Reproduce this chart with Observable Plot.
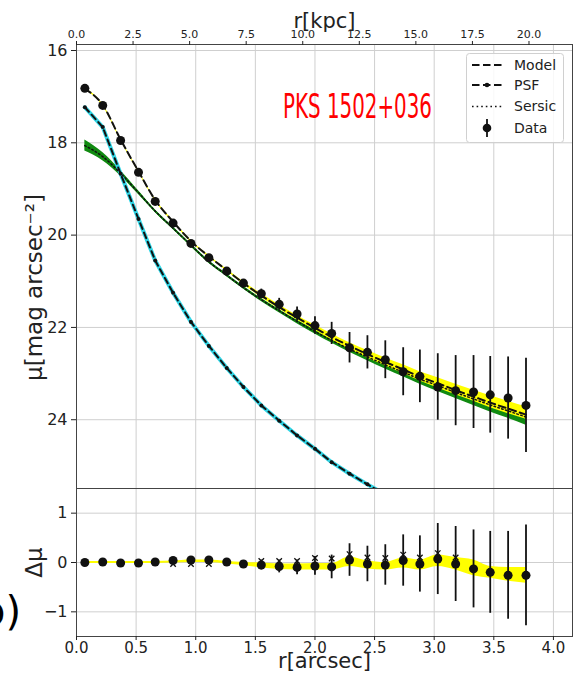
<!DOCTYPE html>
<html><head><meta charset="utf-8">
<script src="https://cdn.jsdelivr.net/npm/d3@7"></script>
<script src="https://cdn.jsdelivr.net/npm/@observablehq/plot@0.6"></script>
<style>
body{margin:0;background:#fff;}
#wrap{position:relative;width:577px;height:680px;font-family:"DejaVu Sans",sans-serif;overflow:hidden;background:#fff}
#wrap > div > svg, #wrap > svg{display:block}
#overlay{position:absolute;left:0;top:0;pointer-events:none}
#blabel{position:absolute;left:-20px;top:588px;font:40px "DejaVu Sans",sans-serif;color:#000}
</style></head><body><div id="wrap"></div>
<script>
// ---- data ----
const rArcsec = [0.07,0.22,0.37,0.52,0.66,0.81,0.96,1.11,1.26,1.40,1.55,1.70,1.85,2.00,2.14,2.29,2.44,2.59,2.74,2.88,3.03,3.18,3.33,3.47,3.62,3.77];
const muData  = [16.82,17.19,17.95,18.64,19.27,19.74,20.18,20.49,20.78,21.04,21.27,21.50,21.71,21.96,22.13,22.44,22.54,22.70,22.96,23.06,23.29,23.37,23.40,23.46,23.53,23.69];
const muErr   = [0.02,0.02,0.02,0.02,0.02,0.03,0.03,0.04,0.05,0.06,0.10,0.13,0.15,0.19,0.24,0.33,0.36,0.41,0.52,0.57,0.72,0.76,0.79,0.83,0.89,1.02];
const muModel = [16.83,17.18,17.93,18.62,19.24,19.71,20.13,20.46,20.76,21.04,21.31,21.56,21.79,22.01,22.21,22.40,22.58,22.75,22.91,23.07,23.21,23.36,23.50,23.63,23.76,23.89];
const modelLo = [16.81,17.16,17.91,18.60,19.22,19.69,20.11,20.44,20.74,21.01,21.27,21.51,21.74,21.95,22.14,22.33,22.50,22.66,22.81,22.96,23.09,23.23,23.36,23.48,23.60,23.72];
const modelHi = [16.85,17.20,17.95,18.64,19.26,19.73,20.15,20.48,20.78,21.07,21.35,21.60,21.84,22.06,22.27,22.47,22.66,22.83,23.00,23.16,23.31,23.46,23.60,23.74,23.87,23.99];
const muSersic = [18.06,18.30,18.66,19.08,19.48,19.85,20.22,20.58,20.87,21.14,21.40,21.64,21.87,22.09,22.28,22.47,22.64,22.81,22.97,23.12,23.26,23.41,23.55,23.68,23.81,23.94];
const sersicLo = [17.94,18.21,18.60,19.04,19.45,19.82,20.19,20.55,20.84,21.11,21.37,21.61,21.84,22.05,22.24,22.42,22.59,22.75,22.91,23.05,23.19,23.33,23.46,23.59,23.71,23.84];
const sersicHi = [18.18,18.39,18.72,19.12,19.51,19.88,20.25,20.61,20.90,21.17,21.44,21.68,21.92,22.14,22.34,22.54,22.72,22.90,23.07,23.23,23.39,23.54,23.69,23.83,23.97,24.12];
const muPSF   = [17.23,17.66,18.67,19.65,20.55,21.25,21.88,22.40,22.88,23.29,23.69,24.02,24.34,24.63,24.92,25.17,25.40,25.62];
const dMu     = [0.00,0.01,-0.01,-0.01,0.01,0.04,0.05,0.05,0.01,-0.03,-0.05,-0.08,-0.10,-0.07,-0.09,0.05,-0.03,-0.05,0.04,-0.03,0.07,-0.03,-0.13,-0.20,-0.26,-0.26];
const dMuAlt  = [0.00,0.01,-0.01,-0.01,0.01,-0.03,-0.03,-0.03,0.00,-0.02,0.03,0.03,0.03,0.09,0.08,0.17,0.10,0.09,0.16,0.10,0.19,0.10,null,null,null,null];
const dBandLo = [-0.02,-0.02,-0.02,-0.02,-0.02,-0.01,0.00,0.00,-0.03,-0.06,-0.11,-0.14,-0.15,-0.15,-0.15,-0.08,-0.13,-0.15,-0.11,-0.15,-0.08,-0.15,-0.27,-0.32,-0.38,-0.42];
const dBandHi = [0.02,0.02,0.02,0.02,0.02,0.03,0.05,0.05,0.02,0.00,-0.01,-0.03,-0.03,-0.02,-0.02,0.11,0.03,0.00,0.09,0.05,0.15,0.10,0.05,-0.08,-0.10,-0.10];

const kpcPerArcsec = 5.27;
const kpcTicks = [0,2.5,5,7.5,10,12.5,15,17.5,20];
const arcsecTicks = [0,0.5,1,1.5,2,2.5,3,3.5,4];
const muTicks = [16,18,20,22,24];
const dMuTicks = [-1,0,1];
const legendLabels = ["Model","PSF","Sersic","Data"];
const objectName = "PKS 1502+036";

// ---- tables ----
const rows = rArcsec.map((r,i)=>({r, mu:muData[i], err:muErr[i], model:muModel[i], mLo:modelLo[i], mHi:modelHi[i],
  sersic:muSersic[i], sLo:sersicLo[i], sHi:sersicHi[i], dmu:dMu[i], alt:dMuAlt[i], bLo:dBandLo[i], bHi:dBandHi[i]}));
const psfRows = muPSF.map((m,i)=>({r:rArcsec[i], mu:m}));

const W = 577, ML = 76, MR = 5;
const xDomain = [0, 4.16];
const fmt1 = d3.format(".1f");
const minus = d => d < 0 ? "\u2212" + (-d) : String(d);
const gridStyle = {stroke:"#cfcfcf", strokeOpacity:1, strokeWidth:1};
const ink = "#111";

const mainPlot = Plot.plot({
  width: W, height: 488, marginLeft: ML, marginRight: MR, marginTop: 44, marginBottom: 0,
  style: {fontFamily:"DejaVu Sans, sans-serif", background:"white", color:"#222", overflow:"visible"},
  x: {domain: xDomain},
  y: {domain: [15.87, 25.49], reverse: true},
  marks: [
    Plot.gridX(arcsecTicks, gridStyle),
    Plot.gridY(muTicks, gridStyle),
    Plot.areaY(rows, {x:"r", y1:"sLo", y2:"sHi", fill:"#108a10", curve:"monotone-x"}),
    Plot.line(rows, {x:"r", y:"sersic", stroke:"#108a10", strokeWidth:1.5, curve:"monotone-x"}),
    Plot.areaY(rows, {x:"r", y1:"mLo", y2:"mHi", fill:"#ffff00", curve:"monotone-x"}),
    Plot.line(psfRows, {x:"r", y:"mu", stroke:"#30d5e5", strokeWidth:4, clip:true}),
    Plot.line(psfRows, {x:"r", y:"mu", stroke:"#111", strokeWidth:2, strokeDasharray:"6,4", clip:true}),
    Plot.dot(psfRows, {x:"r", y:"mu", r:2, fill:"#111", clip:true}),
    Plot.line(rows, {x:"r", y:"sersic", stroke:"#111", strokeWidth:1.5, strokeDasharray:"1.5,2.5", curve:"monotone-x"}),
    Plot.line(rows, {x:"r", y:"model", stroke:"#111", strokeWidth:2, strokeDasharray:"7,4", curve:"monotone-x"}),
    Plot.ruleX(rows, {x:"r", y1:d=>d.mu-d.err, y2:d=>d.mu+d.err, stroke:ink, strokeWidth:1.8}),
    Plot.dot(rows, {x:"r", y:"mu", r:4.5, fill:ink}),
    Plot.frame({stroke:"#444"}),
    Plot.axisY(muTicks, {anchor:"left", tickSize:5, tickPadding:4, fontSize:16, label:null}),
    Plot.axisX(kpcTicks.map(k=>k/kpcPerArcsec), {anchor:"top", tickSize:4, tickPadding:3, fontSize:11,
      tickFormat: d => fmt1(d*kpcPerArcsec), label:null}),
    Plot.text(["\u03bc[mag arcsec\u207b\u00b2]"], {frameAnchor:"left", textAnchor:"middle", dx:-42, dy:21, rotate:-90, fontSize:23, fill:"#222"}),
    Plot.text(["r[kpc]"], {frameAnchor:"top", textAnchor:"middle", dy:-31, fontSize:21, fill:"#222"})
  ]
});

const residPlot = Plot.plot({
  width: W, height: 192, marginLeft: ML, marginRight: MR, marginTop: 0, marginBottom: 44,
  style: {fontFamily:"DejaVu Sans, sans-serif", background:"white", color:"#222", overflow:"visible"},
  x: {domain: xDomain},
  y: {domain: [-1.5, 1.5]},
  marks: [
    Plot.gridX(arcsecTicks, gridStyle),
    Plot.gridY(dMuTicks, gridStyle),
    Plot.areaY(rows, {x:"r", y1:"bLo", y2:"bHi", fill:"#ffff00", curve:"monotone-x"}),
    Plot.ruleX(rows, {x:"r", y1:d=>d.dmu-d.err, y2:d=>d.dmu+d.err, stroke:ink, strokeWidth:1.8}),
    Plot.dot(rows.filter(d=>d.alt!=null), {x:"r", y:"alt", symbol:"times", r:2.6, stroke:ink, strokeWidth:1.3}),
    Plot.dot(rows, {x:"r", y:"dmu", r:4.5, fill:ink}),
    Plot.frame({stroke:"#444"}),
    Plot.axisY(dMuTicks, {anchor:"left", tickSize:5, tickPadding:4, fontSize:16, tickFormat:minus, label:null}),
    Plot.axisX(arcsecTicks, {anchor:"bottom", tickSize:4, tickPadding:2, fontSize:15, tickFormat:fmt1, label:null}),
    Plot.text(["\u0394\u03bc"], {frameAnchor:"left", textAnchor:"middle", dx:-42, rotate:-90, fontSize:23, fill:"#222"}),
    Plot.text(["r[arcsec]"], {frameAnchor:"bottom", textAnchor:"middle", dy:31, fontSize:21, fill:"#222"})
  ]
});

const wrap = document.getElementById("wrap");
wrap.appendChild(mainPlot);
wrap.appendChild(residPlot);

// ---- overlay: object name and legend ----
const ns = "http://www.w3.org/2000/svg";
const ov = document.createElementNS(ns, "svg");
ov.setAttribute("id","overlay"); ov.setAttribute("width",W); ov.setAttribute("height",680);
ov.innerHTML = `
<text x="283" y="118" fill="#ff0000" font-family="DejaVu Sans, sans-serif" font-size="33" textLength="149" lengthAdjust="spacingAndGlyphs">${objectName}</text>
<rect x="466.5" y="53.5" width="97" height="89" rx="3" fill="white" fill-opacity="0.85" stroke="#d0d0d0"/>
<line x1="472" x2="502" y1="65" y2="65" stroke="#111" stroke-width="2" stroke-dasharray="7.5,3.5"/>
<line x1="472" x2="502" y1="85" y2="85" stroke="#111" stroke-width="2" stroke-dasharray="7.5,3.5"/>
<circle cx="487" cy="85" r="2.3" fill="#111"/>
<line x1="472" x2="502" y1="106.5" y2="106.5" stroke="#111" stroke-width="1.6" stroke-dasharray="1.6,3"/>
<line x1="487" x2="487" y1="119" y2="137" stroke="#111" stroke-width="1.8"/>
<circle cx="487" cy="128" r="4.3" fill="#111"/>
${legendLabels.map((t,i)=>`<text x="514" y="${[65,85,106.5,128][i]}" dy="0.35em" font-family="DejaVu Sans, sans-serif" font-size="14" fill="#222">${t}</text>`).join("")}
`;
wrap.appendChild(ov);
const b = document.createElement("div");
b.id = "blabel"; b.textContent = "b)";
wrap.appendChild(b);
</script></body></html>
